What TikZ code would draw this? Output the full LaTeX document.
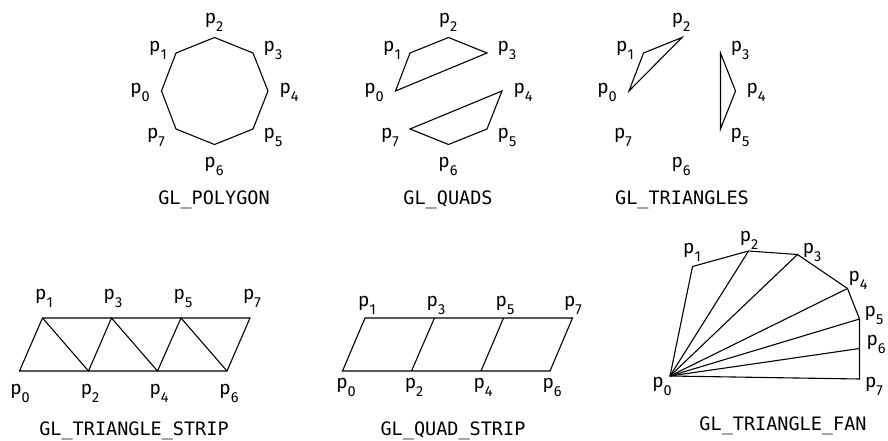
\documentclass[tikz,border=0pt]{standalone}
\usepackage{fontspec}
\newfontfamily\lblfont{Fira Sans}
\newfontfamily\glfont{DejaVu Sans Mono}
\newcommand{\ptlabel}[1]{p\raisebox{-0.42em}{\fontsize{14.5}{14.5}\selectfont #1}}

\begin{document}
\begin{tikzpicture}[x=1pt,y=-1pt,
  edge/.style={black, line width=1.1pt},
  lbl/.style={inner sep=0pt, font=\lblfont\fontsize{19}{21}\selectfont},
  title/.style={inner sep=0pt, font=\glfont\fontsize{18.5}{20}\selectfont}]
\useasboundingbox (0,0) rectangle (888,441);

% --- GL_POLYGON ---
\coordinate (poly0) at (161.5,91);
\coordinate (poly1) at (176,53);
\coordinate (poly2) at (214.5,37.5);
\coordinate (poly3) at (253,53);
\coordinate (poly4) at (268,91);
\coordinate (poly5) at (253,129);
\coordinate (poly6) at (214.5,144.5);
\coordinate (poly7) at (176,129);
\node[lbl] (polyl0) at (140,92) {\ptlabel{0}};
\node[lbl] (polyl1) at (158,50) {\ptlabel{1}};
\node[lbl] (polyl2) at (214,22) {\ptlabel{2}};
\node[lbl] (polyl3) at (273,50) {\ptlabel{3}};
\node[lbl] (polyl4) at (289,92) {\ptlabel{4}};
\node[lbl] (polyl5) at (273,137) {\ptlabel{5}};
\node[lbl] (polyl6) at (214,166) {\ptlabel{6}};
\node[lbl] (polyl7) at (156,137) {\ptlabel{7}};
\node[title] (polyt) at (214,200) {GL\_POLYGON};
\draw[edge] (poly0) -- (poly1) -- (poly2) -- (poly3) -- (poly4) -- (poly5) -- (poly6) -- (poly7) -- cycle;

% --- GL_QUADS ---
\coordinate (quad0) at (395.5,91);
\coordinate (quad1) at (410,53);
\coordinate (quad2) at (448.5,37.5);
\coordinate (quad3) at (487,53);
\coordinate (quad4) at (502,91);
\coordinate (quad5) at (487,129);
\coordinate (quad6) at (448.5,144.5);
\coordinate (quad7) at (410,129);
\node[lbl] (quadl0) at (374,92) {\ptlabel{0}};
\node[lbl] (quadl1) at (392,50) {\ptlabel{1}};
\node[lbl] (quadl2) at (448,22) {\ptlabel{2}};
\node[lbl] (quadl3) at (507,50) {\ptlabel{3}};
\node[lbl] (quadl4) at (523,92) {\ptlabel{4}};
\node[lbl] (quadl5) at (507,137) {\ptlabel{5}};
\node[lbl] (quadl6) at (448,166) {\ptlabel{6}};
\node[lbl] (quadl7) at (390,137) {\ptlabel{7}};
\node[title] (quadt) at (448,200) {GL\_QUADS};
\draw[edge] (quad0) -- (quad1) -- (quad2) -- (quad3) -- cycle;
\draw[edge] (quad4) -- (quad5) -- (quad6) -- (quad7) -- cycle;

% --- GL_TRIANGLES ---
\coordinate (tri0) at (629,91);
\coordinate (tri1) at (643.5,53);
\coordinate (tri2) at (682,37.5);
\coordinate (tri3) at (720.5,53);
\coordinate (tri4) at (735.5,91);
\coordinate (tri5) at (720.5,129);
\node[lbl] (tril0) at (607,92) {\ptlabel{0}};
\node[lbl] (tril1) at (625,50) {\ptlabel{1}};
\node[lbl] (tril2) at (681,22) {\ptlabel{2}};
\node[lbl] (tril3) at (740,50) {\ptlabel{3}};
\node[lbl] (tril4) at (756,92) {\ptlabel{4}};
\node[lbl] (tril5) at (740,137) {\ptlabel{5}};
\node[lbl] (tril6) at (681,166) {\ptlabel{6}};
\node[lbl] (tril7) at (623,137) {\ptlabel{7}};
\node[title] (trit) at (682,200) {GL\_TRIANGLES};
\draw[edge] (tri0) -- (tri1) -- (tri2) -- cycle;
\draw[edge] (tri3) -- (tri4) -- (tri5) -- cycle;

% --- GL_TRIANGLE_STRIP ---
\coordinate (ts0) at (19.5,371);
\coordinate (ts1) at (42.5,318);
\coordinate (ts2) at (88.5,371);
\coordinate (ts3) at (111.5,318);
\coordinate (ts4) at (157.5,371);
\coordinate (ts5) at (181,318);
\coordinate (ts6) at (227,371);
\coordinate (ts7) at (250,318);
\node[lbl] (tsl0) at (20,393) {\ptlabel{0}};
\node[lbl] (tsl1) at (44,298) {\ptlabel{1}};
\node[lbl] (tsl2) at (90,393) {\ptlabel{2}};
\node[lbl] (tsl3) at (113,298) {\ptlabel{3}};
\node[lbl] (tsl4) at (159,393) {\ptlabel{4}};
\node[lbl] (tsl5) at (183,298) {\ptlabel{5}};
\node[lbl] (tsl6) at (229,393) {\ptlabel{6}};
\node[lbl] (tsl7) at (252,298) {\ptlabel{7}};
\node[title] (tst) at (134,431) {GL\_TRIANGLE\_STRIP};
\draw[edge] (ts0) -- (ts6) -- (ts7) -- (ts1) -- cycle;
\draw[edge] (ts1) -- (ts2) -- (ts3) -- (ts4) -- (ts5) -- (ts6);

% --- GL_QUAD_STRIP ---
\coordinate (qs0) at (342.5,371);
\coordinate (qs1) at (365,318);
\coordinate (qs2) at (411.5,371);
\coordinate (qs3) at (434.5,318);
\coordinate (qs4) at (481,371);
\coordinate (qs5) at (503.5,318);
\coordinate (qs6) at (550,371);
\coordinate (qs7) at (572.5,318);
\node[lbl] (qsl0) at (346,387) {\ptlabel{0}};
\node[lbl] (qsl1) at (367,305) {\ptlabel{1}};
\node[lbl] (qsl2) at (414,387) {\ptlabel{2}};
\node[lbl] (qsl3) at (436,305) {\ptlabel{3}};
\node[lbl] (qsl4) at (483,387) {\ptlabel{4}};
\node[lbl] (qsl5) at (505,305) {\ptlabel{5}};
\node[lbl] (qsl6) at (552,387) {\ptlabel{6}};
\node[lbl] (qsl7) at (573,305) {\ptlabel{7}};
\node[title] (qst) at (453,431) {GL\_QUAD\_STRIP};
\draw[edge] (qs0) -- (qs6) -- (qs7) -- (qs1) -- cycle;
\draw[edge] (qs2) -- (qs3);
\draw[edge] (qs4) -- (qs5);

% --- GL_TRIANGLE_FAN ---
\coordinate (fan0) at (670,376);
\coordinate (fan1) at (692.5,266.5);
\coordinate (fan2) at (748.5,251);
\coordinate (fan3) at (797.5,254.5);
\coordinate (fan4) at (847.5,288.5);
\coordinate (fan5) at (859.5,319);
\coordinate (fan6) at (859.5,348.5);
\coordinate (fan7) at (859.5,379);
\node[lbl] (fanl0) at (662,386) {\ptlabel{0}};
\node[lbl] (fanl1) at (692,252) {\ptlabel{1}};
\node[lbl] (fanl2) at (749,240) {\ptlabel{2}};
\node[lbl] (fanl3) at (812,252) {\ptlabel{3}};
\node[lbl] (fanl4) at (858,280) {\ptlabel{4}};
\node[lbl] (fanl5) at (874,315) {\ptlabel{5}};
\node[lbl] (fanl6) at (876,344) {\ptlabel{6}};
\node[lbl] (fanl7) at (874,386) {\ptlabel{7}};
\node[title] (fant) at (783,426) {GL\_TRIANGLE\_FAN};
\draw[edge] (fan0) -- (fan1) -- (fan2) -- (fan3) -- (fan4) -- (fan5) -- (fan6) -- (fan7) -- cycle;
\draw[edge] (fan0) -- (fan2);
\draw[edge] (fan0) -- (fan3);
\draw[edge] (fan0) -- (fan4);
\draw[edge] (fan0) -- (fan5);
\draw[edge] (fan0) -- (fan6);

\end{tikzpicture}
\end{document}
